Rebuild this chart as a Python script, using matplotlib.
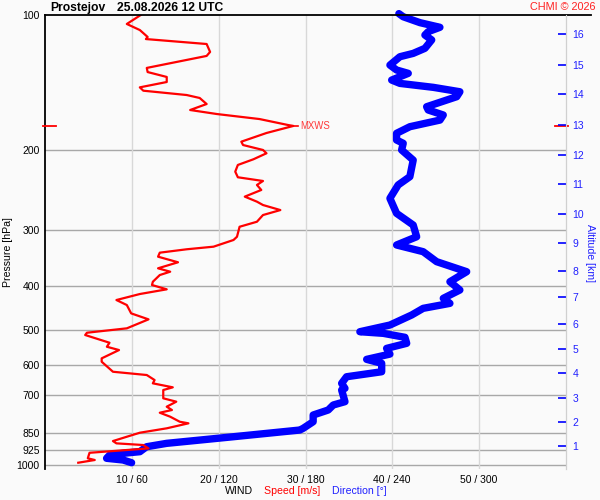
import numpy as np
import matplotlib
matplotlib.use("Agg")
import matplotlib.pyplot as plt
import matplotlib.transforms as mtransforms
from matplotlib.ticker import NullLocator, NullFormatter, FixedLocator, FixedFormatter

plt.rcParams['font.family'] = ['Liberation Sans', 'DejaVu Sans']

# rychlost vetru [m/s] vs tlak [hPa]
speed_p = [100, 104.7, 108.0, 111.9, 113.1, 116.0, 120.8, 123.3, 131.1, 133.9,
           137.3, 140.9, 144.8, 147.3, 150.6, 152.9, 157.7, 162.6, 166.0, 170.3,
           175.6, 176.4, 182.9, 191.2, 194.5, 199.5, 202.9, 209.2, 215.4, 222.9,
           229.4, 233.8, 238.6, 244.8, 253.3, 259.9, 264.4, 271.3, 278.3, 288.0,
           295.5, 311.0, 316.2, 327.2, 331.6, 337.4, 344.4, 354.4, 365.5, 371.9,
           378.3, 391.5, 398.1, 407.0, 416.9, 429.9, 441.1, 460.3, 474.6, 496.9,
           508.2, 514.2, 534.9, 546.0, 555.3, 579.4, 589.5, 620.5, 631.0, 647.4,
           658.4, 672.0, 681.3, 710.8, 723.2, 742.0, 754.7, 765.2, 781.0, 801.3,
           807.9, 828.8, 847.7, 865.3, 884.6, 895.1, 902.8, 918.5, 929.8, 939.4,
           966.2, 974.7, 988.3]
speed = [11.0, 9.4, 10.9, 11.8, 11.6, 18.6, 19.0, 18.6, 11.7, 11.8,
         14.0, 14.0, 10.9, 11.3, 16.3, 17.8, 18.6, 16.7, 19.8, 24.7,
         28.0, 28.6, 25.5, 22.6, 22.8, 25.1, 25.5, 24.0, 22.2, 21.9,
         22.2, 25.1, 24.4, 24.9, 23.0, 24.4, 25.1, 27.1, 25.1, 24.4,
         22.4, 22.1, 21.7, 19.4, 16.3, 13.2, 13.0, 15.3, 13.0, 14.4,
         13.2, 12.4, 12.3, 14.0, 10.9, 8.2, 9.4, 9.9, 11.9, 9.4,
         4.8, 4.6, 7.4, 7.1, 8.5, 6.5, 6.5, 7.8, 11.7, 12.6,
         12.4, 14.7, 13.6, 13.6, 15.1, 14.0, 14.6, 13.2, 14.4, 15.5,
         16.5, 14.0, 10.9, 9.4, 7.8, 8.2, 11.3, 11.9, 8.2, 5.1,
         4.9, 5.7, 3.8]

# smer vetru [deg] vs tlak [hPa]
dir_p = [99.3, 100.9, 104.0, 106.5, 108.9, 110.8, 113.6, 118.6, 121.7, 123.8,
         129.2, 132.5, 134.8, 139.5, 141.9, 144.8, 148.1, 151.9, 159.9, 162.6,
         166.8, 171.2, 177.1, 183.2, 189.6, 192.8, 199.5, 210.1, 228.7, 238.6,
         255.5, 275.9, 292.9, 311.0, 324.4, 335.7, 353.3, 371.9, 391.5, 408.4,
         426.2, 437.3, 448.6, 464.2, 488.6, 505.6, 509.8, 520.3, 536.5, 550.6,
         566.9, 582.4, 594.3, 620.5, 636.6, 658.4, 675.5, 681.3, 723.2, 735.6,
         754.7, 774.3, 801.3, 828.8, 836.1, 865.3, 895.1, 910.8, 934.1, 941.9,
         950.1, 966.2, 974.7, 988.3]
direction = [244.6, 247.6, 259.2, 273.0, 264.9, 262.6, 267.3, 262.6, 254.5, 245.3,
             238.4, 243.0, 251.1, 239.6, 245.3, 268.4, 286.8, 284.6, 263.8, 264.9,
             275.3, 273.0, 252.2, 243.0, 243.0, 247.6, 246.5, 254.5, 252.2, 244.1,
             238.4, 243.0, 254.5, 256.9, 243.0, 261.4, 270.7, 291.5, 279.9, 286.8,
             275.3, 279.9, 261.4, 253.4, 238.4, 217.6, 233.8, 248.8, 250.0, 236.1,
             238.4, 222.3, 232.7, 232.7, 208.4, 205.0, 207.3, 205.0, 207.3, 199.2,
             195.7, 185.3, 185.3, 178.4, 176.1, 130.0, 83.9, 70.0, 65.4, 53.8,
             44.6, 42.4, 53.8, 59.7]

p_levels = [100, 200, 300, 400, 500, 600, 700, 850, 925, 1000]
x_ticks = [10, 20, 30, 40, 50]
x_labels = ['10 / 60', '20 / 120', '30 / 180', '40 / 240', '50 / 300']
alt_km = list(range(1, 17))
alt_p = [906.0, 803.6, 710.0, 625.5, 551.4, 486.1, 424.0, 370.1, 320.6, 276.9,
         237.8, 204.4, 175.3, 149.8, 128.9, 110.2]

BG = '#fafafa'
fig = plt.figure(figsize=(6, 5), dpi=100, facecolor=BG)
W, H = 600.0, 500.0
x0, x1, ytop, ybot = 45.3, 565.7, 15.0, 469.0
ax = fig.add_axes([x0 / W, 1 - ybot / H, (x1 - x0) / W, (ybot - ytop) / H], facecolor=BG)
ax.set_yscale('log')
ax.set_ylim(1020.6, 100)
ax.set_xlim(0, 60)

# mrizka
for p in p_levels[1:]:
    ax.axhline(p, color='#a8a8a8', lw=1.0, zorder=1)
for xv in x_ticks:
    ax.axvline(xv, color='#d8d8d8', lw=1.0, zorder=1)
ax.axhline(100, xmin=0, xmax=(591 - x0) / (x1 - x0), color='black', lw=1.3,
           clip_on=False, zorder=5)

# data
dir_x = np.array(direction) / 6.0
ax.plot(dir_x, dir_p, color='#0000ff', lw=5.3, solid_capstyle='round',
        solid_joinstyle='round', clip_on=False, zorder=3)
ax.plot(speed, speed_p, color='#ff0000', lw=1.6, solid_joinstyle='round', zorder=4)

# MXWS
i = int(np.argmax(speed))
ax.plot([speed[i], speed[i] + 0.5], [speed_p[i], speed_p[i]], color='#ff0000', lw=1.2, zorder=4)
ax.text(speed[i] + 0.8, speed_p[i], 'MXWS', color='#ff3838', fontsize=6.9,
        va='center', ha='left', zorder=4)
tr = mtransforms.blended_transform_factory(ax.transAxes, ax.transData)
ax.plot([-0.005, 0.02], [speed_p[i], speed_p[i]], color='#ff0000', lw=1.3,
        transform=tr, clip_on=False, zorder=6)
ax.plot([0.98, 1.004], [speed_p[i], speed_p[i]], color='#ff0000', lw=1.3,
        transform=tr, clip_on=False, zorder=6)

# osy
for s in ['top', 'bottom']:
    ax.spines[s].set_visible(False)
ax.spines['left'].set_color('black')
ax.spines['left'].set_linewidth(1.3)
ax.spines['right'].set_color('#d0d0d0')
ax.yaxis.set_major_locator(FixedLocator(p_levels))
ax.yaxis.set_major_formatter(FixedFormatter([str(p) for p in p_levels]))
ax.yaxis.set_minor_locator(NullLocator())
ax.yaxis.set_minor_formatter(NullFormatter())
ax.tick_params(axis='y', length=0, pad=4, labelsize=7.5)
ax.set_xticks(x_ticks)
ax.set_xticklabels(x_labels)
ax.tick_params(axis='x', length=0, pad=4, labelsize=7.5)

ax2 = ax.twinx()
ax2.set_yscale('log')
ax2.set_ylim(ax.get_ylim())
for s in ['top', 'bottom', 'left']:
    ax2.spines[s].set_visible(False)
ax2.spines['right'].set_color('#d0d0d0')
ax2.yaxis.set_major_locator(FixedLocator(alt_p))
ax2.yaxis.set_major_formatter(FixedFormatter([str(k) for k in alt_km]))
ax2.yaxis.set_minor_locator(NullLocator())
ax2.yaxis.set_minor_formatter(NullFormatter())
ax2.tick_params(axis='y', direction='in', length=5.5, width=1.2, color='#0000ff',
                labelcolor='#2020ff', labelsize=7.5, pad=5)

# texty
fig.text(50 / W, 1 - 8 / H, 'Prostejov', fontsize=8.7, fontweight='bold', va='center', ha='left')
fig.text(117 / W, 1 - 8 / H, '25.08.2026 12 UTC', fontsize=8.7, fontweight='bold', va='center', ha='left')
fig.text(595.5 / W, 1 - 6.5 / H, 'CHMI © 2026', fontsize=7.8, color='#ff2020', va='center', ha='right')
fig.text(7.7 / W, 1 - 252 / H, 'Pressure [hPa]', fontsize=7.6, rotation=90, va='center', ha='center')
fig.text(590 / W, 1 - 253 / H, 'Altitude [km]', fontsize=7.6, rotation=270, color='#2020ff',
         va='center', ha='center')
fig.text(225 / W, 1 - 491 / H, 'WIND', fontsize=7.6, va='center', ha='left')
fig.text(264 / W, 1 - 491 / H, 'Speed [m/s]', fontsize=7.6, color='#ff0000', va='center', ha='left')
fig.text(332 / W, 1 - 491 / H, 'Direction [°]', fontsize=7.6, color='#2020ff', va='center', ha='left')

fig.savefig('out.png', dpi=100, facecolor=BG)
